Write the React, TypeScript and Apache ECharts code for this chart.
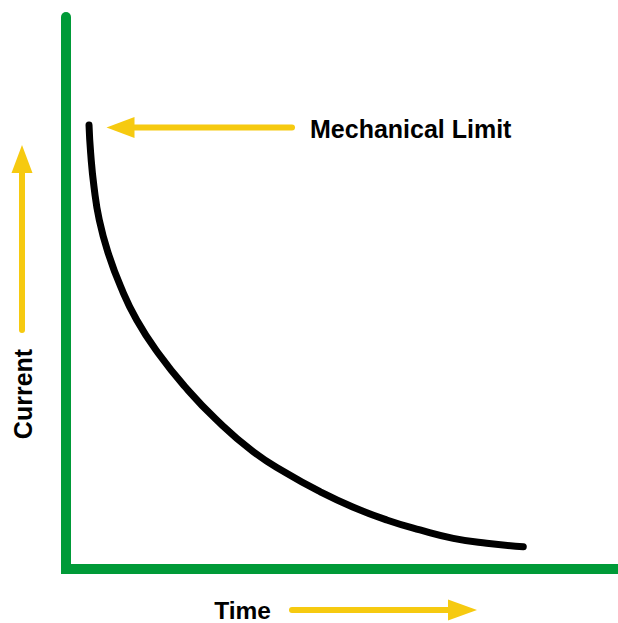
import React, { useEffect, useRef } from "react";
import * as echarts from "echarts";

const timeValues = [4.17, 4.47, 5.07, 6.03, 7.66, 9.91, 12.81, 16.72, 21.56, 27.3, 33.93, 39.98, 46.01, 52.05, 58.1, 64.13, 70.16, 76.21, 82.84];
const currentValues = [80.43, 75.31, 69.26, 63.22, 57.19, 51.14, 45.11, 39.08, 33.02, 26.99, 21.25, 17.34, 14.01, 11.18, 8.88, 7.07, 5.56, 4.66, 4.04];
const labels = { limit: "Mechanical Limit", yName: "Current", xName: "Time" };

const GREEN = "#009A38";
const YELLOW = "#F6CA10";
const FONT = "'Liberation Sans', Arial, sans-serif";

export default function App() {
  const ref = useRef<HTMLDivElement>(null);
  useEffect(() => {
    if (!ref.current) return;
    const chart = echarts.init(ref.current, undefined, { renderer: "svg" });
    const data = timeValues.map((t, i) => [t, currentValues[i]]);
    chart.setOption({
      animation: false,
      backgroundColor: "#ffffff",
      grid: { left: 66, right: 0, top: 17, bottom: 54 },
      xAxis: {
        type: "value",
        min: 0,
        max: 100,
        axisLine: { show: true, lineStyle: { color: GREEN, width: 10, cap: "square" } },
        axisTick: { show: false },
        axisLabel: { show: false },
        splitLine: { show: false },
      },
      yAxis: {
        type: "value",
        min: 0,
        max: 100,
        axisLine: { show: true, lineStyle: { color: GREEN, width: 10, cap: "round" } },
        axisTick: { show: false },
        axisLabel: { show: false },
        splitLine: { show: false },
      },
      series: [
        {
          type: "line",
          data,
          smooth: 0.5,
          showSymbol: false,
          symbol: "none",
          lineStyle: { color: "#000", width: 7, cap: "round" },
        },
      ],
      graphic: [
        // Mechanical limit arrow (pointing left)
        { type: "line", shape: { x1: 133, y1: 127.5, x2: 292, y2: 127.5 }, style: { stroke: YELLOW, lineWidth: 6, lineCap: "round" } },
        { type: "polygon", shape: { points: [[106.5, 127.5], [134.5, 117], [134.5, 138]] }, style: { fill: YELLOW } },
        { type: "text", x: 310, y: 128.5, style: { text: labels.limit, font: `bold 25px ${FONT}`, fill: "#000", align: "left", verticalAlign: "middle" } },
        // Current arrow (pointing up)
        { type: "line", shape: { x1: 22, y1: 172, x2: 22, y2: 330 }, style: { stroke: YELLOW, lineWidth: 6, lineCap: "round" } },
        { type: "polygon", shape: { points: [[22, 145], [11.5, 173], [32.5, 173]] }, style: { fill: YELLOW } },
        { type: "text", x: 23, y: 394, rotation: Math.PI / 2, style: { text: labels.yName, font: `bold 25px ${FONT}`, fill: "#000", align: "center", verticalAlign: "middle" } },
        // Time arrow (pointing right)
        { type: "line", shape: { x1: 292, y1: 610, x2: 449, y2: 610 }, style: { stroke: YELLOW, lineWidth: 6, lineCap: "round" } },
        { type: "polygon", shape: { points: [[477, 610], [448, 599.5], [448, 620.5]] }, style: { fill: YELLOW } },
        { type: "text", x: 242.5, y: 610, style: { text: labels.xName, font: `bold 24.5px ${FONT}`, fill: "#000", align: "center", verticalAlign: "middle" } },
      ],
    });
    return () => chart.dispose();
  }, []);
  return <div ref={ref} style={{ position: "absolute", left: 0, top: 0, width: 618, height: 623 }} />;
}
